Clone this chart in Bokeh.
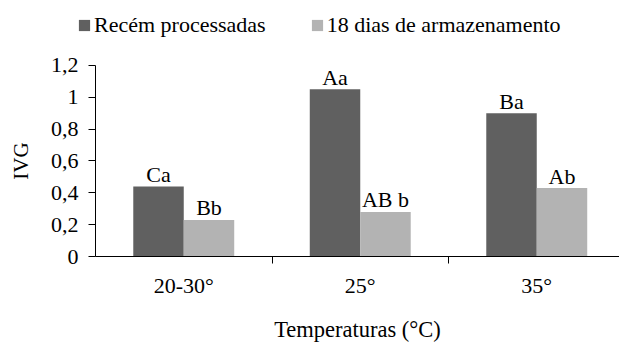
from bokeh.plotting import figure
from bokeh.models import Range1d, FixedTicker, Legend, LegendItem, ColumnDataSource
from bokeh.core.properties import value
from bokeh.embed import file_html
from bokeh.resources import INLINE

categories = ["20-30°", "25°", "35°"]
recem = [0.44, 1.05, 0.90]
armaz = [0.23, 0.28, 0.43]
recem_labels = ["Ca", "Aa", "Ba"]
armaz_labels = ["Bb", "AB b", "Ab"]
series_names = ["Recém processadas", "18 dias de armazenamento"]
y_ticks = [0, 0.2, 0.4, 0.6, 0.8, 1.0, 1.2]
y_tick_labels = ["0", "0,2", "0,4", "0,6", "0,8", "1", "1,2"]

FONT = "Liberation Serif"
DARK = "#606060"
LIGHT = "#b3b3b3"
BW = 0.286

# layout helpers (pixels)
CAT_PX = 176.5          # width of one category
AXIS_X = 95             # screen x of the value axis
AXIS_Y = 256            # screen y of the category axis
W, H = 619, 343
Y_PX = 159.2            # pixels per 1.0 of IVG

centers = [i + 0.5 for i in range(len(categories))]
src1 = ColumnDataSource(dict(x=[c - BW / 2 for c in centers], top=recem, lab=recem_labels))
src2 = ColumnDataSource(dict(x=[c + BW / 2 for c in centers], top=armaz, lab=armaz_labels))

x_start = -AXIS_X / CAT_PX
x_end = (W - AXIS_X) / CAT_PX
y_start = -(H - AXIS_Y) / Y_PX
y_end = AXIS_Y / Y_PX

p = figure(width=W, height=H, output_backend="svg", toolbar_location=None,
           x_range=Range1d(x_start, x_end), y_range=Range1d(y_start, y_end),
           min_border_left=0, min_border_right=0, min_border_top=0, min_border_bottom=0)
p.outline_line_color = None
p.xgrid.visible = False
p.ygrid.visible = False
p.background_fill_color = "white"
p.border_fill_color = "white"

r1 = p.vbar(x="x", top="top", width=BW, bottom=0, source=src1, fill_color=DARK, line_color=None)
r2 = p.vbar(x="x", top="top", width=BW, bottom=0, source=src2, fill_color=LIGHT, line_color=None)

for s in (src1, src2):
    p.text(x="x", y="top", text="lab", source=s, text_align="center", text_baseline="alphabetic",
           y_offset=-12, text_font=value(FONT), text_font_size="22px", text_color="black")

xa = p.xaxis[0]
xa.fixed_location = 0
xa.bounds = (0, x_end)
xa.ticker = FixedTicker(ticks=centers, minor_ticks=[1, 2])
xa.major_label_overrides = {c: cat for c, cat in zip(centers, categories)}
xa.major_tick_out = 0
xa.major_tick_in = 0
xa.minor_tick_out = 7
xa.minor_tick_in = 0
xa.major_label_standoff = 9
xa.axis_label = "Temperaturas (°C)"
xa.axis_label_standoff = 16

ya = p.yaxis[0]
ya.fixed_location = 0
ya.bounds = (0, 1.2)
ya.ticker = FixedTicker(ticks=y_ticks, minor_ticks=[])
ya.major_label_overrides = {t: l for t, l in zip(y_ticks, y_tick_labels)}
ya.major_tick_out = 7
ya.major_tick_in = 0
ya.minor_tick_out = 0
ya.minor_tick_in = 0
ya.major_label_standoff = 10
ya.axis_label = "IVG"
ya.axis_label_standoff = 15

for ax in (xa, ya):
    ax.axis_line_color = "black"
    ax.major_tick_line_color = "black"
    ax.minor_tick_line_color = "black"
    ax.major_label_text_font = FONT
    ax.major_label_text_font_size = "22px"
    ax.major_label_text_color = "black"
    ax.axis_label_text_font = FONT
    ax.axis_label_text_font_style = "normal"
    ax.axis_label_text_color = "black"
xa.axis_label_text_font_size = "22.5px"
ya.axis_label_text_font_size = "21px"

legend = Legend(items=[LegendItem(label=series_names[0], renderers=[r1]),
                       LegendItem(label=series_names[1], renderers=[r2])],
                orientation="horizontal", location=(77, 305),
                glyph_width=14, glyph_height=14, label_standoff=3, spacing=44,
                label_text_font=FONT, label_text_font_size="22px", label_text_color="black",
                padding=0, margin=0, border_line_color=None, background_fill_alpha=0)
p.add_layout(legend, "center")

open("out.html", "w").write(file_html(p, INLINE))
